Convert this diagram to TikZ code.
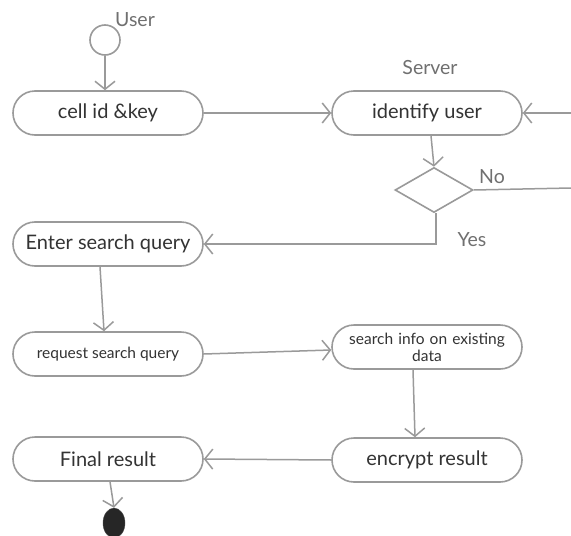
\documentclass[tikz,border=0pt]{standalone}
\usepackage{fontspec}
\setmainfont{Lato}
\usetikzlibrary{arrows.meta,shapes.geometric,calc}
\definecolor{lc}{HTML}{9A9A9A}
\definecolor{tc}{HTML}{333333}
\tikzset{
  act/.style={draw=lc, line width=1.6pt, rectangle, rounded corners=22pt,
    minimum width=190pt, minimum height=44pt, text=tc, font=\fontsize{20}{22}\selectfont, align=center, inner sep=2pt},
  actsmall/.style={act, font=\fontsize{15.5}{17}\selectfont},
  flow/.style={draw=lc, line width=1.5pt, -{Straight Barb[length=8pt,width=20pt,line width=1.5pt]}},
  plain/.style={draw=lc, line width=1.5pt},
  lbl/.style={text=tc!70, font=\fontsize{19.5}{21}\selectfont, inner sep=0pt},
}
\begin{document}
\begin{tikzpicture}[x=1pt,y=-1pt]
\useasboundingbox (0,0) rectangle (571,536);
\fill[white] (0,0) rectangle (571,536);
\node[circle, draw=lc, line width=1.6pt, minimum size=30pt, inner sep=0pt] (start) at (105,40) {};
\node[lbl] (userlbl) at (135,20) {User};
\node[lbl] (serverlbl) at (430,68) {Server};
\node[act] (cell) at (108,113) {cell id \&key};
\node[act] (ident) at (427,113) {identify user};
\node[diamond, draw=lc, line width=1.6pt, minimum width=78pt, minimum height=45pt, inner sep=0pt, aspect=1.7] (dec) at (434,190) {};
\node[lbl] (nolbl) at (492,177) {No};
\node[lbl] (yeslbl) at (472,240) {Yes};
\node[act] (enter) at (108,244) {Enter search query};
\node[actsmall] (req) at (108,354) {request search query};
\node[actsmall, text width=185pt] (search) at (427,347) {search info on existing\\data};
\node[act] (enc) at (427,460) {encrypt result};
\node[act] (final) at (108,459) {Final result};
\node[ellipse, fill=black!85, draw=black!70, minimum width=22pt, minimum height=30pt, inner sep=0pt] (end) at (114,523) {};
\coordinate (rin) at (571,113);
\coordinate (rout) at (571,188);

\draw[flow] (start.south) -- (cell.north -| start.south);
\draw[flow] (cell.east) -- (ident.west);
\draw[flow] (rin) -- (ident.east);
\draw[flow] ($(ident.south)+(4,0)$) -- (dec.north);
\draw[plain] (dec.east) -- (rout);
\draw[flow] ($(dec.south)+(2,0)$) |- (enter.east);
\draw[flow] ($(enter.south)+(-8,0)$) -- ($(req.north)+(-4,0)$);
\draw[flow] (req.east) -- ($(search.west)+(0,3)$);
\draw[flow] ($(search.south)+(-14,0)$) -- ($(enc.north)+(-12,0)$);
\draw[flow] (enc.west) -- (final.east);
\draw[flow] ($(final.south)+(2,0)$) -- (end.north);
\end{tikzpicture}
\end{document}
